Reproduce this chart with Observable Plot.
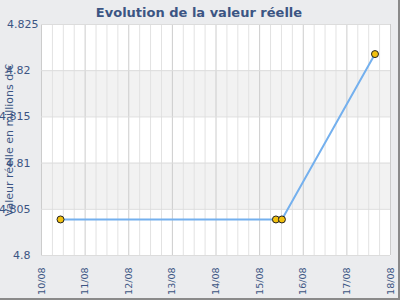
<!DOCTYPE html>
<html>
<head>
<meta charset="utf-8">
<script src="https://cdn.jsdelivr.net/npm/d3@7"></script>
<script src="https://cdn.jsdelivr.net/npm/@observablehq/plot@0.6"></script>
<style>
  html, body { margin: 0; padding: 0; }
  #wrap { width: 398px; height: 298px; background: #ebecee; border-right: 2px solid #8a8a8a; border-bottom: 2px solid #8a8a8a; position: relative; overflow: hidden; font-family: "DejaVu Sans", sans-serif; }
  #title { position: absolute; left: 0; top: 0; width: 398px; height: 22px; line-height: 26px; text-align: center; font-weight: bold; font-size: 13px; color: #3b5583; z-index: 2; }
  #chart svg { display: block; overflow: visible; }
</style>
</head>
<body>
<div id="wrap">
  <div id="title">Evolution de la valeur réelle</div>
  <div id="chart"></div>
</div>
<script>
const dates = ["2012-08-10T10:28Z", "2012-08-15T08:58Z", "2012-08-15T12:16Z", "2012-08-17T15:28Z"];
const values = [4.8039, 4.8039, 4.8039, 4.8218];
const yTicks = [4.8, 4.805, 4.81, 4.815, 4.82, 4.825];
const dayTicks = ["2012-08-10", "2012-08-11", "2012-08-12", "2012-08-13", "2012-08-14", "2012-08-15", "2012-08-16", "2012-08-17", "2012-08-18"];
const yLabel = "Valeur réelle en millions d'€";

const data = dates.map((d, i) => ({date: new Date(d), value: values[i]}));
const days = dayTicks.map(d => new Date(d + "T00:00Z"));
const quarterTicks = d3.utcHour.every(6).range(days[0], days[days.length - 1]).filter(t => t.getUTCHours() !== 0);
const bands = [[4.805, 4.81], [4.815, 4.82]].map(([a, b]) => ({y1: a, y2: b}));

const textColor = "#3b5583";

const plot = Plot.plot({
  width: 398,
  height: 298,
  marginTop: 24,
  marginBottom: 43,
  marginLeft: 41,
  marginRight: 8,
  style: {background: "transparent", fontFamily: "DejaVu Sans, sans-serif", color: textColor},
  x: {type: "utc", domain: [days[0], days[days.length - 1]]},
  y: {domain: [4.8, 4.825]},
  marks: [
    Plot.frame({fill: "white", stroke: "none"}),
    Plot.rectY(bands, {x1: days[0], x2: days[days.length - 1], y1: "y1", y2: "y2", fill: "#f2f2f2"}),
    Plot.ruleX(quarterTicks, {stroke: "#e2e2e2", strokeWidth: 1}),
    Plot.ruleX(days, {stroke: "#cccccc", strokeWidth: 1}),
    Plot.ruleY(yTicks, {stroke: "#dcdcdc", strokeWidth: 1}),
    Plot.axisY(yTicks.filter(t => t !== 4.825), {tickSize: 0, tickPadding: 11, tickFormat: d => String(d), fontSize: 11, fill: textColor, label: null}),
    Plot.axisY([4.825], {tickSize: 0, tickPadding: 3, tickFormat: d => String(d), fontSize: 11, fill: textColor, label: null}),
    Plot.axisX(days, {tickSize: 0, tickPadding: 12, tickRotate: -90, tickFormat: d3.utcFormat("%d/%m"), fontSize: 9.5, fill: textColor, label: null}),
    Plot.text([yLabel], {frameAnchor: "left", textAnchor: "middle", dx: -32, rotate: -90, fontSize: 11, fill: textColor}),
    Plot.line(data, {x: "date", y: "value", stroke: "#74b0ee", strokeWidth: 2}),
    Plot.dot(data, {x: "date", y: "value", r: 3.5, fill: "#f2c10f", stroke: "#222", strokeWidth: 1})
  ]
});
document.getElementById("chart").appendChild(plot);
</script>
</body>
</html>
